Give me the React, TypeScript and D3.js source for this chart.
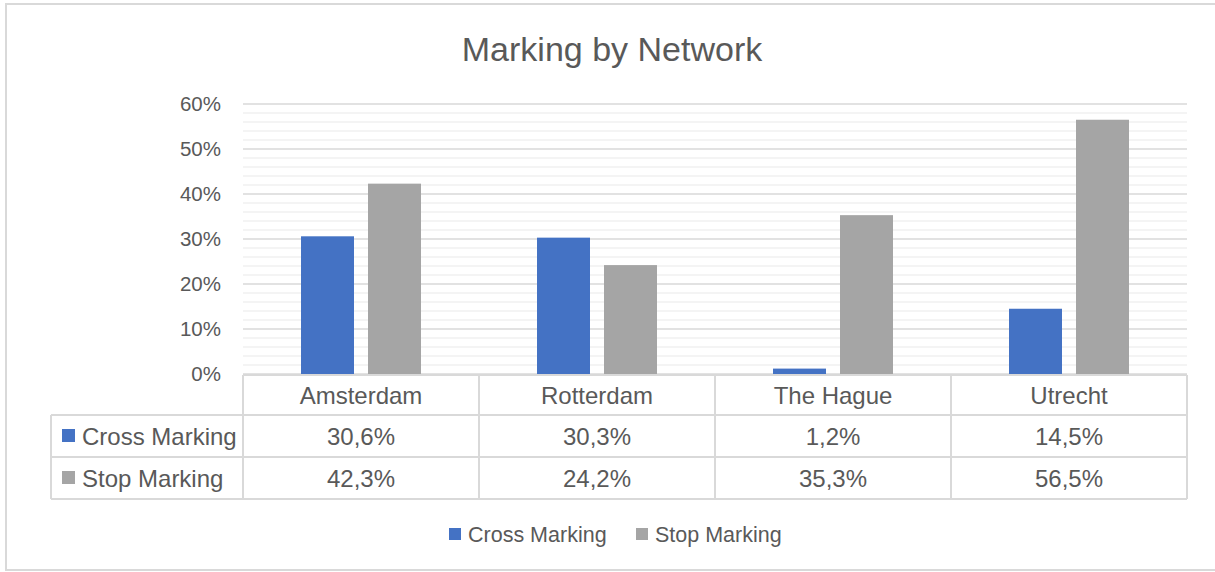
import React from 'react';
import * as d3 from 'd3';

const categories = ['Amsterdam', 'Rotterdam', 'The Hague', 'Utrecht'];
const seriesNames = ['Cross Marking', 'Stop Marking'];
const crossMarking = [30.6, 30.3, 1.2, 14.5];
const stopMarking = [42.3, 24.2, 35.3, 56.5];
const yTicks = [0, 10, 20, 30, 40, 50, 60];
const colors = ['#4472C4', '#A5A5A5'];

const FONT = '"Liberation Sans", Arial, sans-serif';
const TEXT = '#595959';
const GRID = '#d9d9d9';

function App(): React.ReactElement {
  const width = 1215;
  const height = 572;
  const plot = { left: 243, right: 1187, top: 104, bottom: 374 };
  const rowH = [40, 42, 42];

  const series = [crossMarking, stopMarking];

  const x = d3.scaleBand<string>().domain(categories).range([plot.left, plot.right]);
  const inner = d3
    .scaleBand<string>()
    .domain(seriesNames)
    .range([0, x.bandwidth()])
    .paddingInner(0.209)
    .paddingOuter(0.866);
  const y = d3.scaleLinear().domain([0, 60]).range([plot.bottom, plot.top]);
  const minorTicks = d3.range(0, 61, 2).filter(v => v % 10 !== 0);

  const fmt = (v: number) => v.toFixed(1).replace('.', ',') + '%';

  const tableTop = plot.bottom + 1;
  const row1 = tableTop + rowH[0];
  const row2 = row1 + rowH[1];
  const row3 = row2 + rowH[2];
  const tableLeft = 51;
  const bounds = x.domain().map(c => x(c)!).concat([plot.right]);

  return (
    <svg
      width={width}
      height={height}
      style={{ position: 'absolute', left: 0, top: 0, background: '#fff' }}
      fontFamily={FONT}
    >
      <rect x={6} y={4} width={1230} height={566} fill="#fff" stroke={GRID} strokeWidth={2} />

      <text x={612} y={61} textAnchor="middle" fontSize={34} fill={TEXT}>
        Marking by Network
      </text>

      {/* gridlines */}
      {minorTicks.map(t => (
        <line key={'m' + t} x1={plot.left} x2={plot.right} y1={y(t)} y2={y(t)} stroke="#f0f0f0" strokeWidth={1.5} />
      ))}
      {yTicks.map(t => (
        <line key={'g' + t} x1={plot.left} x2={plot.right} y1={y(t)} y2={y(t)} stroke={GRID} strokeWidth={1.5} />
      ))}
      {yTicks.map(t => (
        <text key={'t' + t} x={221} y={y(t)} dy="0.35em" textAnchor="end" fontSize={20.5} fill={TEXT}>
          {t + '%'}
        </text>
      ))}

      {/* bars */}
      {series.map((vals, si) =>
        categories.map((c, ci) => (
          <rect
            key={si + '-' + c}
            x={x(c)! + inner(seriesNames[si])!}
            y={y(vals[ci])}
            width={inner.bandwidth()}
            height={y(0) - y(vals[ci])}
            fill={colors[si]}
          />
        ))
      )}

      {/* data table */}
      <g stroke={GRID} strokeWidth={2} fill="none">
        <line x1={plot.left} x2={plot.right} y1={tableTop} y2={tableTop} />
        <line x1={tableLeft} x2={plot.right} y1={row1} y2={row1} />
        <line x1={tableLeft} x2={plot.right} y1={row2} y2={row2} />
        <line x1={tableLeft} x2={plot.right} y1={row3} y2={row3} />
        <line x1={tableLeft} x2={tableLeft} y1={row1} y2={row3} />
        {bounds.map((b, i) => (
          <line key={'v' + i} x1={b} x2={b} y1={tableTop} y2={row3} />
        ))}
      </g>
      {categories.map(c => (
        <text key={'c' + c} x={x(c)! + x.bandwidth() / 2} y={row1 - 11} textAnchor="middle" fontSize={24} fill={TEXT}>
          {c}
        </text>
      ))}
      {series.map((vals, si) => {
        const top = si === 0 ? row1 : row2;
        const h = rowH[si + 1];
        return (
          <g key={'row' + si}>
            <rect x={62} y={top + h / 2 - 7} width={13} height={13} fill={colors[si]} />
            <text x={82} y={top + h / 2} dy="0.36em" fontSize={24} fill={TEXT}>
              {seriesNames[si]}
            </text>
            {categories.map((c, ci) => (
              <text
                key={'v' + c}
                x={x(c)! + x.bandwidth() / 2}
                y={top + h / 2}
                dy="0.36em"
                textAnchor="middle"
                fontSize={24}
                fill={TEXT}
              >
                {fmt(vals[ci])}
              </text>
            ))}
          </g>
        );
      })}

      {/* legend */}
      {seriesNames.map((s, i) => {
        const lx = [449, 636][i];
        return (
          <g key={'lg' + s}>
            <rect x={lx} y={528} width={12} height={12} fill={colors[i]} />
            <text x={lx + 19} y={534} dy="0.36em" fontSize={21.5} fill={TEXT}>
              {s}
            </text>
          </g>
        );
      })}
    </svg>
  );
}

export default App;
